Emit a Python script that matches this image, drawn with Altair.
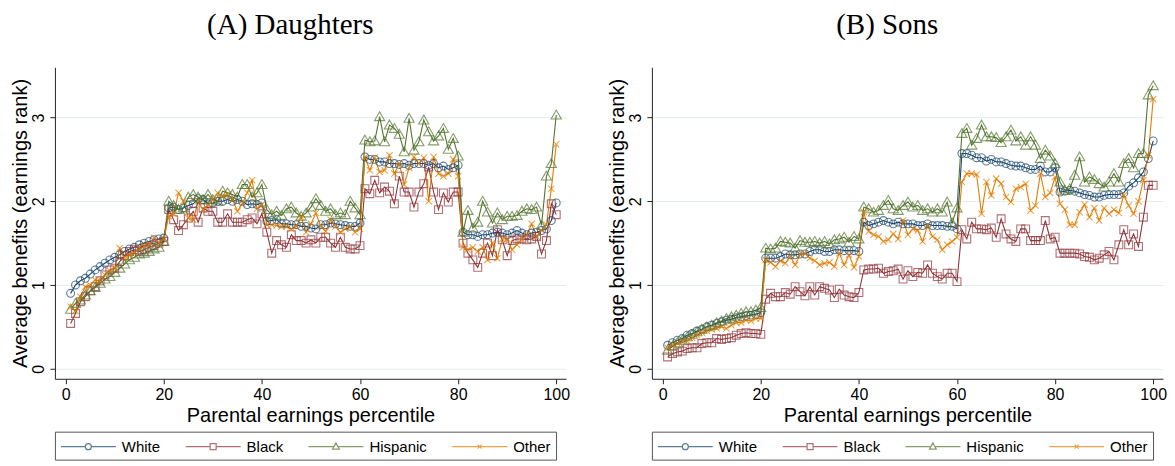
import altair as alt
import pandas as pd

# ---------------- data ----------------
percentile = list(range(1, 101))
series_names = ["White", "Black", "Hispanic", "Other"]
series_colors = ["#1a476f", "#90353b", "#55752f", "#e37e00"]
marker_shapes = ["circle", "square", "M0,-1.25L1.3,1L-1.3,1Z", "M-0.8,-0.8L0.8,0.8M-0.8,0.8L0.8,-0.8"]
x_ticks = [0, 20, 40, 60, 80, 100]
y_ticks = [0, 1, 2, 3]
panel_titles = ["(A) Daughters", "(B) Sons"]

daughters_white = [
    0.90, 1.00, 1.05, 1.08, 1.13, 1.18, 1.22, 1.26, 1.30, 1.33, 1.36, 1.40, 1.43, 1.45, 1.48, 1.50, 1.52, 1.54, 1.55, 1.56,
    1.92, 1.93, 1.90, 1.92, 1.95, 1.97, 2.03, 2.02, 1.97, 1.98, 2.00, 2.00, 2.02, 2.00, 2.02, 2.00, 1.96, 1.97, 1.96, 1.98,
    1.76, 1.77, 1.78, 1.73, 1.73, 1.72, 1.72, 1.70, 1.70, 1.68, 1.67, 1.72, 1.72, 1.74, 1.73, 1.72, 1.71, 1.70, 1.70, 1.74,
    2.53, 2.50, 2.50, 2.47, 2.47, 2.45, 2.45, 2.44, 2.45, 2.43, 2.45, 2.45, 2.45, 2.43, 2.45, 2.40, 2.42, 2.38, 2.40, 2.43,
    1.63, 1.60, 1.60, 1.58, 1.60, 1.60, 1.62, 1.63, 1.62, 1.60, 1.62, 1.65, 1.62, 1.60, 1.62, 1.63, 1.65, 1.67, 1.77, 1.98,
]
daughters_black = [
    0.54, 0.66, 0.80, 0.86, 0.93, 0.98, 1.05, 1.12, 1.18, 1.20, 1.28, 1.35, 1.40, 1.42, 1.40, 1.42, 1.45, 1.47, 1.50, 1.52,
    1.90, 1.78, 1.65, 1.72, 1.80, 1.88, 1.75, 1.92, 1.88, 1.88, 1.75, 1.75, 1.85, 1.75, 1.75, 1.75, 1.78, 1.80, 1.73, 1.85,
    1.63, 1.38, 1.53, 1.48, 1.45, 1.60, 1.53, 1.53, 1.50, 1.54, 1.50, 1.57, 1.57, 1.50, 1.45, 1.57, 1.45, 1.43, 1.43, 1.47,
    2.15, 2.09, 2.25, 2.10, 2.17, 2.12, 1.97, 2.30, 2.11, 2.11, 1.93, 2.11, 2.21, 2.41, 2.11, 1.90, 2.10, 1.99, 2.11, 2.11,
    1.50, 1.38, 1.30, 1.21, 1.38, 1.50, 1.35, 1.66, 1.54, 1.35, 1.53, 1.55, 1.55, 1.54, 1.55, 1.58, 1.37, 1.53, 1.97, 1.84,
]
daughters_hispanic = [
    0.71, 0.78, 0.82, 0.88, 0.93, 0.97, 1.02, 1.07, 1.10, 1.15, 1.20, 1.25, 1.30, 1.33, 1.37, 1.38, 1.40, 1.43, 1.45, 1.52,
    2.00, 1.95, 1.90, 1.92, 2.05, 2.08, 2.05, 2.02, 2.08, 2.02, 2.00, 2.12, 2.10, 2.08, 2.05, 2.20, 2.20, 2.05, 2.10, 2.20,
    1.90, 1.84, 1.88, 1.83, 1.91, 1.93, 1.86, 1.82, 1.86, 1.93, 2.03, 1.95, 1.88, 1.91, 1.84, 1.86, 1.84, 2.00, 1.92, 1.84,
    2.73, 2.71, 2.72, 3.01, 2.71, 2.91, 2.87, 2.80, 2.59, 2.99, 2.61, 2.71, 2.97, 2.83, 2.72, 2.78, 2.87, 2.62, 2.75, 2.54,
    1.63, 1.89, 1.68, 1.75, 2.00, 1.87, 1.74, 1.86, 1.78, 1.82, 1.82, 1.83, 1.88, 1.91, 1.90, 1.93, 1.71, 2.30, 2.45, 3.03,
]
daughters_other = [
    0.74, 0.69, 0.86, 0.98, 1.00, 1.06, 1.05, 1.12, 1.17, 1.20, 1.44, 1.33, 1.36, 1.38, 1.45, 1.47, 1.49, 1.56, 1.50, 1.55,
    1.82, 1.85, 2.10, 2.00, 1.80, 1.78, 2.00, 1.90, 1.95, 2.02, 2.10, 2.05, 2.08, 2.02, 1.88, 1.97, 2.10, 2.25, 1.91, 1.96,
    1.72, 1.72, 1.71, 1.70, 1.70, 1.67, 1.70, 1.81, 1.63, 1.73, 1.86, 1.70, 1.64, 1.78, 1.70, 1.63, 1.67, 1.69, 1.63, 1.67,
    2.53, 2.37, 2.52, 2.35, 2.37, 2.55, 2.33, 2.45, 2.20, 2.40, 2.53, 2.45, 2.52, 2.00, 2.53, 2.33, 2.30, 2.33, 2.50, 2.30,
    1.45, 1.42, 1.45, 1.40, 1.45, 1.30, 1.50, 1.32, 1.55, 1.55, 1.42, 1.48, 1.55, 1.60, 1.73, 1.58, 1.65, 1.72, 2.15, 2.68,
]
sons_white = [
    0.28, 0.31, 0.34, 0.36, 0.40, 0.42, 0.45, 0.47, 0.50, 0.52, 0.54, 0.56, 0.58, 0.59, 0.61, 0.62, 0.63, 0.64, 0.65, 0.67,
    1.32, 1.32, 1.32, 1.34, 1.37, 1.36, 1.36, 1.37, 1.37, 1.40, 1.42, 1.42, 1.40, 1.40, 1.42, 1.42, 1.41, 1.41, 1.41, 1.40,
    1.75, 1.71, 1.73, 1.75, 1.77, 1.75, 1.73, 1.75, 1.73, 1.73, 1.73, 1.71, 1.71, 1.73, 1.71, 1.71, 1.71, 1.70, 1.70, 1.67,
    2.57, 2.57, 2.55, 2.52, 2.52, 2.48, 2.50, 2.47, 2.47, 2.45, 2.43, 2.42, 2.42, 2.40, 2.38, 2.38, 2.42, 2.35, 2.35, 2.40,
    2.11, 2.12, 2.13, 2.12, 2.10, 2.08, 2.07, 2.05, 2.05, 2.07, 2.08, 2.08, 2.08, 2.10, 2.18, 2.22, 2.28, 2.35, 2.51, 2.72,
]
sons_black = [
    0.14, 0.18, 0.20, 0.21, 0.24, 0.25, 0.25, 0.30, 0.31, 0.31, 0.36, 0.35, 0.36, 0.37, 0.40, 0.42, 0.43, 0.42, 0.42, 0.41,
    0.83, 0.90, 0.86, 0.86, 0.91, 0.89, 0.98, 0.92, 0.87, 0.98, 0.88, 0.98, 0.96, 0.94, 0.85, 0.95, 0.88, 0.86, 0.85, 0.91,
    1.18, 1.19, 1.19, 1.20, 1.14, 1.16, 1.17, 1.19, 1.07, 1.17, 1.10, 1.15, 1.14, 1.24, 1.14, 1.10, 1.07, 1.14, 1.14, 1.04,
    1.66, 1.55, 1.75, 1.67, 1.67, 1.66, 1.68, 1.57, 1.79, 1.61, 1.55, 1.52, 1.67, 1.67, 1.53, 1.53, 1.53, 1.77, 1.55, 1.57,
    1.38, 1.38, 1.38, 1.38, 1.37, 1.34, 1.33, 1.30, 1.32, 1.36, 1.40, 1.30, 1.48, 1.66, 1.48, 1.61, 1.46, 1.81, 2.19, 2.19,
]
sons_hispanic = [
    0.22, 0.27, 0.31, 0.34, 0.38, 0.41, 0.44, 0.47, 0.50, 0.52, 0.55, 0.57, 0.60, 0.62, 0.64, 0.66, 0.68, 0.68, 0.70, 0.73,
    1.44, 1.43, 1.44, 1.52, 1.51, 1.50, 1.44, 1.53, 1.51, 1.51, 1.52, 1.50, 1.52, 1.49, 1.54, 1.55, 1.57, 1.51, 1.58, 1.55,
    1.93, 1.91, 1.87, 1.89, 1.95, 2.01, 1.91, 1.89, 1.95, 1.99, 1.93, 1.95, 1.89, 1.91, 1.87, 1.91, 1.87, 1.99, 1.74, 1.92,
    2.81, 2.87, 2.67, 2.75, 2.91, 2.77, 2.77, 2.76, 2.70, 2.77, 2.85, 2.72, 2.77, 2.67, 2.77, 2.67, 2.51, 2.61, 2.54, 2.45,
    2.23, 2.13, 2.15, 2.31, 2.53, 2.23, 2.29, 2.26, 2.21, 2.17, 2.23, 2.33, 2.23, 2.45, 2.51, 2.40, 2.57, 2.57, 3.27, 3.38,
]
sons_other = [
    0.25, 0.28, 0.30, 0.33, 0.33, 0.37, 0.40, 0.43, 0.45, 0.47, 0.48, 0.50, 0.48, 0.52, 0.55, 0.55, 0.58, 0.57, 0.60, 0.60,
    1.30, 1.27, 1.22, 1.29, 1.26, 1.34, 1.24, 1.36, 1.38, 1.32, 1.29, 1.24, 1.26, 1.27, 1.22, 1.38, 1.24, 1.36, 1.21, 1.34,
    1.87, 1.64, 1.60, 1.58, 1.52, 1.54, 1.61, 1.55, 1.77, 1.60, 1.67, 1.65, 1.52, 1.71, 1.58, 1.54, 1.42, 1.48, 1.52, 1.57,
    2.23, 2.33, 2.33, 2.32, 1.85, 2.23, 2.07, 2.27, 2.21, 2.05, 1.99, 2.15, 2.17, 2.21, 1.89, 1.95, 2.33, 2.05, 2.10, 2.29,
    1.97, 1.90, 1.72, 1.72, 1.87, 1.96, 1.81, 1.92, 1.77, 1.92, 1.85, 1.90, 1.86, 2.07, 1.95, 1.85, 2.00, 2.25, 2.55, 3.22,
]

panel_series = [
    [daughters_white, daughters_black, daughters_hispanic, daughters_other],
    [sons_white, sons_black, sons_hispanic, sons_other],
]

# legend symbols: a line with the marker in its middle (units = sqrt(symbolSize)/2)
legend_paths = [
    "M-1,0L1.72,0M2.39,0L5.11,0M2.39,0A0.333,0.333 0 1,1 1.72,0A0.333,0.333 0 1,1 2.39,0Z",
    "M-1,0L1.72,0M2.39,0L5.11,0M1.72,-0.333L2.39,-0.333L2.39,0.333L1.72,0.333Z",
    "M-1,0L1.83,0M2.28,0L5.11,0M2.056,-0.42L2.43,0.28L1.68,0.28Z",
    "M-1,0L5.11,0M1.83,-0.23L2.28,0.23M1.83,0.23L2.28,-0.23",
]
legend_expr = ""
for name, path in zip(series_names[:-1], legend_paths[:-1]):
    legend_expr += "datum.value === '%s' ? '%s' : " % (name, path)
legend_expr += "'%s'" % legend_paths[-1]

marker_keys = ["mk_" + n for n in series_names]

FONT = "Liberation Sans"


def make_panel(title, values_list):
    rows = []
    for name, key, vals in zip(series_names, marker_keys, values_list):
        for p, v in zip(percentile, vals):
            rows.append({"pct": p, "value": v, "series": name, "marker": key})
    df = pd.DataFrame(rows)

    legend = alt.Legend(
        title=None,
        orient="bottom",
        direction="horizontal",
        symbolType=alt.ExprRef(expr=legend_expr),
        symbolSize=324,
        symbolStrokeWidth=1.2,
        symbolFillColor="white",
        labelOffset=42,
        columnPadding=22,
        padding=5,
        strokeColor="#555555",
        labelFont=FONT,
        labelFontSize=15,
        labelColor="black",
        offset=6,
    )
    color = alt.Color(
        "series:N",
        scale=alt.Scale(domain=series_names, range=series_colors),
        legend=legend,
        sort=series_names,
    )
    x = alt.X(
        "pct:Q",
        scale=alt.Scale(domain=[-2.2, 102], nice=False, zero=False),
        axis=alt.Axis(
            values=x_ticks,
            title="Parental earnings percentile",
            grid=False,
            labelFlush=False,
            tickSize=5,
            labelPadding=3,
            titlePadding=3,
        ),
    )
    y = alt.Y(
        "value:Q",
        scale=alt.Scale(domain=[-0.12, 3.6], nice=False, zero=False),
        axis=alt.Axis(
            values=y_ticks,
            title="Average benefits (earnings rank)",
            grid=True,
            gridColor="#e3ebee",
            gridWidth=1,
            labelAngle=270,
            labelAlign="center",
            labelBaseline="bottom",
            tickSize=5,
            labelPadding=3,
            titlePadding=0,
        ),
    )
    lines = alt.Chart(df).mark_line(strokeWidth=1.1).encode(
        x=x, y=y, color=color, detail="series:N", order="pct:Q"
    )
    points = alt.Chart(df).mark_point(filled=False, strokeWidth=1.1, size=62).encode(
        x=x,
        y=y,
        color=alt.Color("series:N", scale=alt.Scale(domain=series_names, range=series_colors), legend=legend),
        shape=alt.Shape(
            "marker:N",
            scale=alt.Scale(domain=marker_keys, range=marker_shapes),
            legend=None,
        ),
    )
    return alt.layer(lines, points).properties(
        width=512,
        height=312,
        title=alt.TitleParams(
            title,
            font="Liberation Serif",
            fontSize=29,
            fontWeight="normal",
            color="black",
            anchor="middle",
            frame="bounds",
            offset=27,
        ),
    )


left = make_panel(panel_titles[0], panel_series[0])
right = make_panel(panel_titles[1], panel_series[1])

chart = (
    alt.hconcat(left, right, spacing=38)
    .resolve_scale(color="independent", shape="independent")
    .properties(padding={"left": 3, "top": 3, "right": 0, "bottom": 0}, background="white")
    .configure_view(stroke=None)
    .configure_axis(
        labelFont=FONT,
        titleFont=FONT,
        labelFontSize=16,
        titleFontSize=20,
        titleFontWeight="normal",
        labelColor="black",
        titleColor="black",
        domainColor="#222222",
        tickColor="#222222",
        domainWidth=1,
        tickWidth=1,
    )
)

chart.save("out.html", embed_options={"renderer": "svg", "actions": False})
